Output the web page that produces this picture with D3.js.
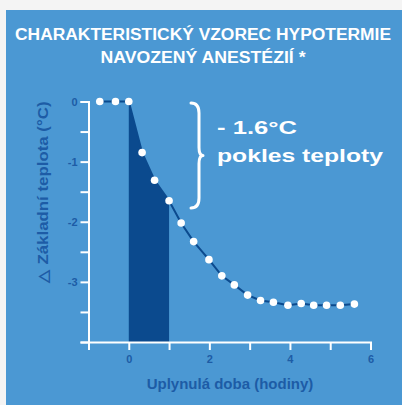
<!DOCTYPE html>
<html lang="cs">
<head>
<meta charset="utf-8">
<script src="https://d3js.org/d3.v7.min.js"></script>
<style>
  body { margin: 0; background: #f4f4f4; }
</style>
</head>
<body>
<script>
// Data
var hours = [-0.72, -0.33, 0, 0.33, 0.64, 1.0, 1.3, 1.61, 1.99, 2.31, 2.62, 2.95, 3.27, 3.59, 3.95, 4.28, 4.59, 4.91, 5.25, 5.6];
var temps = [0, 0, 0, -0.85, -1.31, -1.65, -2.02, -2.33, -2.63, -2.9, -3.05, -3.22, -3.31, -3.34, -3.39, -3.36, -3.39, -3.39, -3.39, -3.37];
var xTicks = [-1, 0, 1, 2, 3, 4, 5, 6];
var xTickLabels = ["", "0", "", "2", "", "4", "", "6"];
var yTicks = [0, -0.5, -1, -1.5, -2, -2.5, -3, -3.5, -4];
var yTickLabels = ["0", "", "-1", "", "-2", "", "-3", "", ""];
var titleLines = ["CHARAKTERISTICKÝ VZOREC HYPOTERMIE", "NAVOZENÝ ANESTÉZIÍ *"];
var noteLines = ["- 1.6°C", "pokles teploty"];

var w = 402, h = 405;
var bg = "#4b98d3", dark = "#0b4a8e", label = "#1d5ca6";

var data = hours.map(function(d, i) { return {x: d, y: temps[i]}; });

var svg = d3.select("body").append("svg")
  .attr("width", w).attr("height", h)
  .style("display", "block")
  .style("font-family", "'Liberation Sans', Arial, sans-serif");

svg.append("rect").attr("x", 6).attr("y", 10).attr("width", w - 6).attr("height", h - 10).attr("fill", bg);

var xScale = d3.scaleLinear().domain([-1, 6]).range([88.5, 370.5]);
var yScale = d3.scaleLinear().domain([0, -4]).range([101.5, 342]);

// title
svg.selectAll("text.title").data(titleLines).enter().append("text")
  .attr("class", "title")
  .attr("x", 203).attr("y", function(d, i) { return 39.5 + i * 23; })
  .attr("text-anchor", "middle")
  .attr("fill", "white").attr("font-weight", "bold").attr("font-size", "16px")
  .attr("textLength", function(d, i) { return i == 0 ? 376 : 205; })
  .attr("lengthAdjust", "spacingAndGlyphs")
  .text(function(d) { return d; });

// shaded first hour
var area = d3.area()
  .x(function(d) { return xScale(d.x); })
  .y0(yScale(-4))
  .y1(function(d) { return yScale(d.y); });
svg.append("path")
  .datum(data.filter(function(d) { return d.x >= 0 && d.x <= 1; }))
  .attr("d", area).attr("fill", dark);

// axes
var xAxis = d3.axisBottom(xScale).tickValues(xTicks).tickSize(8).tickPadding(5)
  .tickFormat(function(d, i) { return xTickLabels[i]; });
var yAxis = d3.axisLeft(yScale).tickValues(yTicks).tickSize(8).tickPadding(3)
  .tickFormat(function(d, i) { return yTickLabels[i]; });

var gx = svg.append("g").attr("transform", "translate(0," + yScale(-4) + ")").call(xAxis);
var gy = svg.append("g").attr("transform", "translate(" + xScale(-1) + ",0)").call(yAxis);
[gx, gy].forEach(function(g) {
  g.select(".domain").attr("stroke", "white").attr("stroke-width", 2);
  g.selectAll(".tick line").attr("stroke", "white").attr("stroke-width", 2);
  g.selectAll(".tick text").attr("fill", label).attr("font-weight", "bold")
    .attr("font-size", "11px").attr("font-family", "'Liberation Sans', Arial, sans-serif");
});

// axis titles
svg.append("text")
  .attr("x", 230).attr("y", 389)
  .attr("text-anchor", "middle")
  .attr("fill", label).attr("font-weight", "bold").attr("font-size", "15px")
  .text("Uplynulá doba (hodiny)");

svg.append("text")
  .attr("transform", "translate(48,192) rotate(-90)")
  .attr("text-anchor", "middle")
  .attr("fill", label).attr("font-weight", "bold").attr("font-size", "14px")
  .attr("textLength", 181).attr("lengthAdjust", "spacingAndGlyphs")
  .text("△ Základní teplota (°C)");

// line and points
var line = d3.line()
  .x(function(d) { return xScale(d.x); })
  .y(function(d) { return yScale(d.y); });
svg.append("path").datum(data).attr("d", line)
  .attr("fill", "none").attr("stroke", dark).attr("stroke-width", 2);

svg.selectAll("circle").data(data).enter().append("circle")
  .attr("cx", function(d) { return xScale(d.x); })
  .attr("cy", function(d) { return yScale(d.y); })
  .attr("r", 3.8).attr("fill", "white");

// brace for the first-hour drop
var bx = 191, bTop = 103, bBot = 208, bMid = (bTop + bBot) / 2, bTip = 203;
svg.append("path")
  .attr("d", "M" + bx + "," + bTop +
    " Q" + (bx + 8) + "," + bTop + " " + (bx + 8) + "," + (bTop + 10) +
    " L" + (bx + 8) + "," + (bMid - 8) +
    " Q" + (bx + 8) + "," + bMid + " " + bTip + "," + bMid +
    " Q" + (bx + 8) + "," + bMid + " " + (bx + 8) + "," + (bMid + 8) +
    " L" + (bx + 8) + "," + (bBot - 10) +
    " Q" + (bx + 8) + "," + bBot + " " + bx + "," + bBot)
  .attr("fill", "none").attr("stroke", "white").attr("stroke-width", 3)
  .attr("stroke-linecap", "round").attr("stroke-linejoin", "round");

svg.selectAll("text.note").data(noteLines).enter().append("text")
  .attr("class", "note")
  .attr("x", 217).attr("y", function(d, i) { return 134 + i * 28; })
  .attr("fill", "white").attr("font-weight", "bold").attr("font-size", "19px")
  .attr("textLength", function(d, i) { return i == 0 ? 80 : 166; })
  .attr("lengthAdjust", "spacingAndGlyphs")
  .text(function(d) { return d; });
</script>
</body>
</html>
